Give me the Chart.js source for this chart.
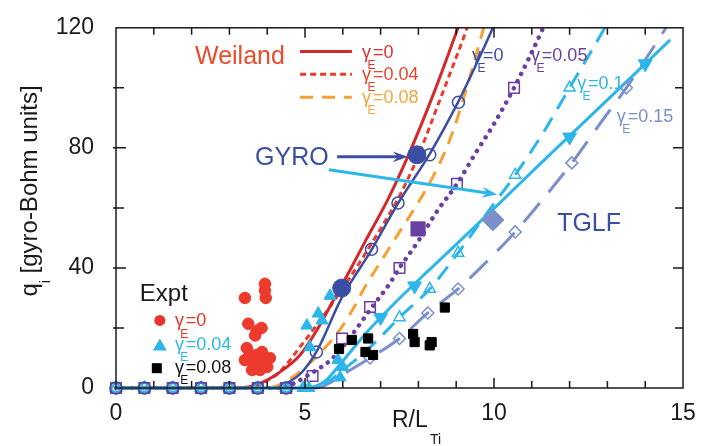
<!DOCTYPE html>
<html>
<head>
<meta charset="utf-8">
<script src="https://cdn.jsdelivr.net/npm/chart.js@4.4.1/dist/chart.umd.min.js"></script>
<style>
  html, body { margin: 0; padding: 0; background: #fff; }
  #wrap { width: 712px; height: 446px; }
</style>
</head>
<body>
<div id="wrap"><canvas id="myChart" width="712" height="446"></canvas></div>
<script>
const FONT = '"Liberation Sans", Arial, Helvetica, sans-serif';

// axis ticks
const xTicks = [0, 5, 10, 15];
const yTicks = [0, 40, 80, 120];

// Weiland model curves
const weiland0X = [0, 3.3, 3.8, 4.3, 4.87, 5.3, 5.74, 6.2, 6.6, 7.2, 7.75, 8.4, 9.05, 9.2];
const weiland0Y = [0, 0, 1.5, 5, 11, 19, 29, 39.5, 49, 63, 78, 98, 120, 125];
const weiland04X = [0, 3.6, 4.0, 4.3, 4.95, 5.6, 6.2, 6.9, 7.5, 7.95, 8.6, 9.29, 9.4];
const weiland04Y = [0, 0, 2.5, 5, 15, 26, 37, 51, 64, 76, 97, 120, 124];
const weiland08X = [0, 4.0, 4.4, 5.1, 5.9, 6.3, 6.6, 7.0, 7.5, 8.1, 8.57, 8.9, 9.23, 9.55, 9.75];
const weiland08Y = [0, 0, 1.5, 8, 19, 27, 34, 42, 52, 64, 75, 85, 98, 112, 121];

// GYRO / TGLF curves
const gyro0X = [0, 4.2, 4.5, 4.9, 5.3, 5.97, 6.76, 7.46, 8.3, 9.06, 9.5, 9.97, 10.1];
const gyro0Y = [0, 0, 1.5, 5, 12, 30, 46, 61.5, 78, 95.5, 107, 120, 124];
const gyro05X = [0, 4.4, 4.7, 5.05, 5.74, 6.2, 6.72, 7.25, 7.5, 8, 8.5, 9.02, 9.5, 10, 10.53, 11.3, 11.4];
const gyro05Y = [0, 0, 1.5, 4, 10, 17, 26, 35, 40, 49, 59, 68, 78, 88, 100, 120, 123];
const gyro10X = [0, 5.2, 5.6, 6.0, 6.5, 7.0, 7.5, 8.3, 9.05, 9.8, 10.56, 11.3, 12, 12.93, 13.1];
const gyro10Y = [0, 0, 2, 6, 11, 17, 23.5, 33, 45, 58, 71, 85, 100, 120, 124];
const tglfX = [0, 5.0, 5.5, 6.0, 6.63, 7.43, 8.3, 9.1, 10.1, 11.2, 12, 13, 14, 14.66];
const tglfY = [0, 0, 2, 9, 18.5, 29, 39.5, 49, 61, 74.4, 84, 96, 108, 116];
const gyro15X = [0, 5.3, 5.7, 6.2, 6.72, 7.5, 8.25, 9.05, 9.8, 10.56, 11.3, 12.06, 12.8, 13.5, 14.5, 14.6];
const gyro15Y = [0, 0, 2, 6, 10, 16.5, 25, 33, 42, 52, 63, 75, 88, 100, 119, 121];

// simulation markers (zero-flux points shared)
const zeroX = [0, 0.75, 1.5, 2.25, 3, 3.75, 4.5];
const circX = [5.3, 6.76, 7.46, 8.3, 9.06];
const circY = [12, 46.2, 61.6, 77.7, 95.2];
const sqX = [5.2, 5.98, 6.72, 7.5, 9.02, 10.53];
const sqY = [4, 16.5, 27, 40, 68, 100];
const triX = [7.5, 8.3, 9.05, 10.56, 12];
const triY = [23.5, 33, 45, 71, 100];
const diaX = [6.72, 7.5, 8.25, 9.05, 10.56, 12.06, 13.5];
const diaY = [10, 16.5, 25, 33, 52, 75, 100];
const tglfTriX = [7.0, 7.9, 12, 14];
const tglfTriY = [23.5, 34, 83.6, 108];

// values at experimental R/LTi
const gyroBigX = [5.97, 7.96];
const gyroBigY = [33.3, 77.7];
const sqBigX = [7.99];
const sqBigY = [53];
const diaBigX = [9.97];
const diaBigY = [56];

// experiment
const exptE0X = [3.41, 3.94, 3.94, 3.96, 3.5, 3.72, 3.85, 3.68, 3.46, 3.55, 3.72, 3.86, 3.41, 3.63, 3.86, 4.07, 3.6, 3.81, 4.0];
const exptE0Y = [30, 34.7, 32.5, 30, 21.4, 19, 20, 17.5, 13.3, 11, 11, 12, 9.3, 8.6, 9.3, 10, 6, 6, 7];
const exptE04X = [5.66, 5.35, 5.45, 5.05, 5.13, 5.87, 6.0, 5.93, 4.95, 5.1];
const exptE04Y = [30.7, 24.8, 22.5, 20.8, 13.6, 9.3, 7, 3.5, 0, 0];
const exptE08X = [8.7, 7.86, 7.9, 8.3, 8.35, 6.67, 6.6, 6.8, 6.24, 5.9];
const exptE08Y = [26.8, 18, 15.3, 14.2, 15.3, 16.5, 12, 11, 16, 13];

const RED = "#d22a2c", RED2 = "#ec3a2c", ORANGE = "#f6a033", BLUE = "#3a4ea3",
  PURPLE = "#6a40a2", CYAN = "#2cb6e9", SLATE = "#7b8fca";

function pts(xs, ys) { return xs.map((x, i) => ({ x, y: ys[i] })); }
function zeros(xs) { return xs.map(x => ({ x, y: 0 })); }

function curve(xs, ys, color, width, dash, cap) {
  return {
    data: pts(xs, ys), showLine: true, pointRadius: 0,
    borderColor: color, borderWidth: width, borderDash: dash || [],
    borderCapStyle: cap || "butt", cubicInterpolationMode: "monotone",
    clip: { left: 5, top: 0, right: 5, bottom: 5 }
  };
}
function marks(data, style, r, color, fill, bw, rot) {
  return {
    data, showLine: false, pointStyle: style, pointRadius: r,
    borderColor: color, backgroundColor: fill, borderWidth: bw,
    rotation: rot || 0, clip: false
  };
}

const datasets = [
  marks(pts(gyroBigX, gyroBigY), "circle", 9, BLUE, BLUE, 1),
  marks(pts(sqBigX, sqBigY), "rect", 10, PURPLE, PURPLE, 1),
  marks(pts(diaBigX, diaBigY), "rectRot", 11, SLATE, SLATE, 1),
  marks(pts(exptE08X, exptE08Y), "rect", 6.5, "#000", "#000", 1),
  marks(pts(exptE04X, exptE04Y), "triangle", 7, CYAN, CYAN, 1),
  marks(pts(exptE0X, exptE0Y), "circle", 5.8, RED2, RED2, 1),
  marks(pts(tglfTriX, tglfTriY), "triangle", 8, CYAN, CYAN, 1, 180),
  marks(zeros(zeroX).concat(pts(circX, circY)), "circle", 6, BLUE, "rgba(0,0,0,0)", 1.5),
  marks(zeros(zeroX).concat(pts(sqX, sqY)), "rect", 7.5, PURPLE, "rgba(0,0,0,0)", 1.5),
  marks(zeros(zeroX).concat(pts(triX, triY)), "triangle", 6.5, CYAN, "rgba(0,0,0,0)", 1.5),
  marks(zeros(zeroX).concat(pts(diaX, diaY)), "rectRot", 6, SLATE, "rgba(0,0,0,0)", 1.5),
  curve(tglfX, tglfY, CYAN, 3),
  curve(gyro0X, gyro0Y, BLUE, 2.5),
  curve(weiland0X, weiland0Y, RED, 3),
  curve(weiland04X, weiland04Y, RED2, 3, [6, 4]),
  curve(weiland08X, weiland08Y, ORANGE, 3, [13, 9]),
  curve(gyro05X, gyro05Y, PURPLE, 4.5, [0.1, 8], "round"),
  curve(gyro10X, gyro10Y, CYAN, 3, [16, 10]),
  curve(gyro15X, gyro15Y, SLATE, 3, [25, 14])
];

// text placed in data coordinates
const notes = [
  { t: "Weiland", x: 2.09, y: 107.8, c: "#ea4b2b", f: 25 },
  { t: "GYRO", x: 3.68, y: 74.4, c: BLUE, f: 25 },
  { t: "TGLF", x: 11.67, y: 52.2, c: BLUE, f: 25 },
  { t: "Expt", x: 0.63, y: 29.1, c: "#1a1a1a", f: 24 }
];
const gammaNotes = [
  { v: "0", x: 6.51, y: 110.1, c: "#df2f2a" },
  { v: "0.04", x: 6.51, y: 102.5, c: "#ea432c" },
  { v: "0.08", x: 6.51, y: 94.9, c: "#f5a53a" },
  { v: "0", x: 9.42, y: 109.1, c: BLUE },
  { v: "0.05", x: 10.98, y: 109.1, c: PURPLE },
  { v: "0.1", x: 12.2, y: 99.5, c: CYAN },
  { v: "0.15", x: 13.25, y: 88.6, c: SLATE },
  { v: "0", x: 1.56, y: 20.5, c: "#e8342a" },
  { v: "0.04", x: 1.56, y: 12.6, c: CYAN },
  { v: "0.08", x: 1.56, y: 5.0, c: "#111" }
];
const weilandKey = [
  { y: 112.1, c: RED, dash: [] },
  { y: 104.5, c: RED2, dash: [6, 4] },
  { y: 96.9, c: ORANGE, dash: [13, 9] }
];

function gamma(ctx, x, y, val, color, fs) {
  ctx.fillStyle = color;
  ctx.textAlign = "left";
  ctx.textBaseline = "alphabetic";
  ctx.font = fs + "px " + FONT;
  ctx.fillText("\u03b3", x, y);
  ctx.font = Math.round(fs * 0.68) + "px " + FONT;
  ctx.fillText("E", x + fs * 0.3, y + fs * 0.62);
  ctx.font = fs + "px " + FONT;
  ctx.fillText("=" + val, x + fs * 0.6, y);
}

function arrow(ctx, x1, y1, x2, y2, color) {
  const a = Math.atan2(y2 - y1, x2 - x1);
  ctx.strokeStyle = color; ctx.fillStyle = color; ctx.lineWidth = 3;
  ctx.setLineDash([]);
  ctx.beginPath();
  ctx.moveTo(x1, y1);
  ctx.lineTo(x2 - 8 * Math.cos(a), y2 - 8 * Math.sin(a));
  ctx.stroke();
  ctx.beginPath();
  ctx.moveTo(x2, y2);
  ctx.lineTo(x2 - 16 * Math.cos(a - 0.35), y2 - 16 * Math.sin(a - 0.35));
  ctx.lineTo(x2 - 10 * Math.cos(a), y2 - 10 * Math.sin(a));
  ctx.lineTo(x2 - 16 * Math.cos(a + 0.35), y2 - 16 * Math.sin(a + 0.35));
  ctx.closePath();
  ctx.fill();
}

const decor = {
  id: "decor",
  afterDatasetsDraw(chart) {
    const ctx = chart.ctx;
    const X = v => chart.scales.x.getPixelForValue(v);
    const Y = v => chart.scales.y.getPixelForValue(v);
    const a = chart.chartArea;
    ctx.save();

    // frame and inside ticks
    ctx.strokeStyle = "#1a1a1a";
    ctx.lineWidth = 1.5;
    ctx.setLineDash([]);
    ctx.strokeRect(a.left, a.top, a.right - a.left, a.bottom - a.top);
    ctx.beginPath();
    for (let v = 1; v < 15; v++) {
      const len = v % 5 === 0 ? 10 : 7;
      ctx.moveTo(X(v), a.bottom); ctx.lineTo(X(v), a.bottom - len);
      ctx.moveTo(X(v), a.top); ctx.lineTo(X(v), a.top + len);
    }
    for (let v = 20; v < 120; v += 20) {
      const len = v % 40 === 0 ? 10 : 8;
      ctx.moveTo(a.left - 3, Y(v)); ctx.lineTo(a.left + len, Y(v));
      ctx.moveTo(a.right, Y(v)); ctx.lineTo(a.right - len, Y(v));
    }
    ctx.stroke();

    // axis titles
    ctx.fillStyle = "#1a1a1a";
    ctx.textBaseline = "alphabetic";
    ctx.textAlign = "left";
    ctx.font = "23px " + FONT;
    ctx.fillText("R/L", 392, 427);
    ctx.font = "14px " + FONT;
    ctx.fillText("Ti", 430, 444);

    ctx.save();
    ctx.translate(37, 191);
    ctx.rotate(-Math.PI / 2);
    ctx.font = "24px " + FONT;
    const rest = " [gyro-Bohm units]";
    const wq = ctx.measureText("q").width;
    const wr = ctx.measureText(rest).width;
    ctx.font = "14px " + FONT;
    const wi = ctx.measureText("i").width;
    const x0 = -(wq + wi + wr) / 2;
    ctx.font = "24px " + FONT;
    ctx.fillText("q", x0, 0);
    ctx.fillText(rest, x0 + wq + wi, 0);
    ctx.font = "14px " + FONT;
    ctx.fillText("i", x0 + wq, 13);
    ctx.restore();

    // Weiland key lines
    weilandKey.forEach(k => {
      ctx.strokeStyle = k.c; ctx.lineWidth = 3; ctx.setLineDash(k.dash);
      ctx.beginPath();
      ctx.moveTo(X(4.87), Y(k.y)); ctx.lineTo(X(6.24), Y(k.y));
      ctx.stroke();
    });
    ctx.setLineDash([]);

    // arrows
    arrow(ctx, X(5.85), Y(77), X(7.72), Y(77), BLUE);
    arrow(ctx, X(5.63), Y(72.7), X(10.08), Y(64.5), CYAN);

    // text
    notes.forEach(n => {
      ctx.fillStyle = n.c; ctx.font = n.f + "px " + FONT;
      ctx.textAlign = "left"; ctx.textBaseline = "alphabetic";
      ctx.fillText(n.t, X(n.x), Y(n.y));
    });
    gammaNotes.forEach(g => gamma(ctx, X(g.x), Y(g.y), g.v, g.c, 18));

    // Expt key symbols
    ctx.fillStyle = "#e8342a";
    ctx.beginPath(); ctx.arc(X(1.16), Y(22.5), 5.5, 0, Math.PI * 2); ctx.fill();
    ctx.fillStyle = CYAN;
    const tx = X(1.16), ty = Y(14.2);
    ctx.beginPath(); ctx.moveTo(tx, ty - 7); ctx.lineTo(tx + 7, ty + 5); ctx.lineTo(tx - 7, ty + 5); ctx.closePath(); ctx.fill();
    ctx.fillStyle = "#000";
    ctx.fillRect(X(1.08) - 5, Y(6.6) - 5, 10, 10);

    ctx.restore();
  }
};

new Chart(document.getElementById("myChart"), {
  type: "scatter",
  data: { datasets },
  plugins: [decor],
  options: {
    responsive: false,
    animation: false,
    events: [],
    layout: { padding: { top: 25, right: 29, left: 0, bottom: 0 } },
    plugins: { legend: { display: false }, tooltip: { enabled: false } },
    scales: {
      x: {
        type: "linear", min: 0, max: 15,
        grid: { display: false }, border: { display: false },
        afterFit: s => { s.height = 58; },
        afterBuildTicks: s => { s.ticks = xTicks.map(v => ({ value: v })); },
        ticks: { color: "#1a1a1a", padding: 4, font: { family: FONT, size: 23 } }
      },
      y: {
        type: "linear", min: 0, max: 120,
        grid: { display: false }, border: { display: false },
        afterFit: s => { s.width = 116; },
        afterBuildTicks: s => { s.ticks = yTicks.map(v => ({ value: v })); },
        ticks: { color: "#1a1a1a", padding: 14, font: { family: FONT, size: 23 } }
      }
    }
  }
});
</script>
</body>
</html>
